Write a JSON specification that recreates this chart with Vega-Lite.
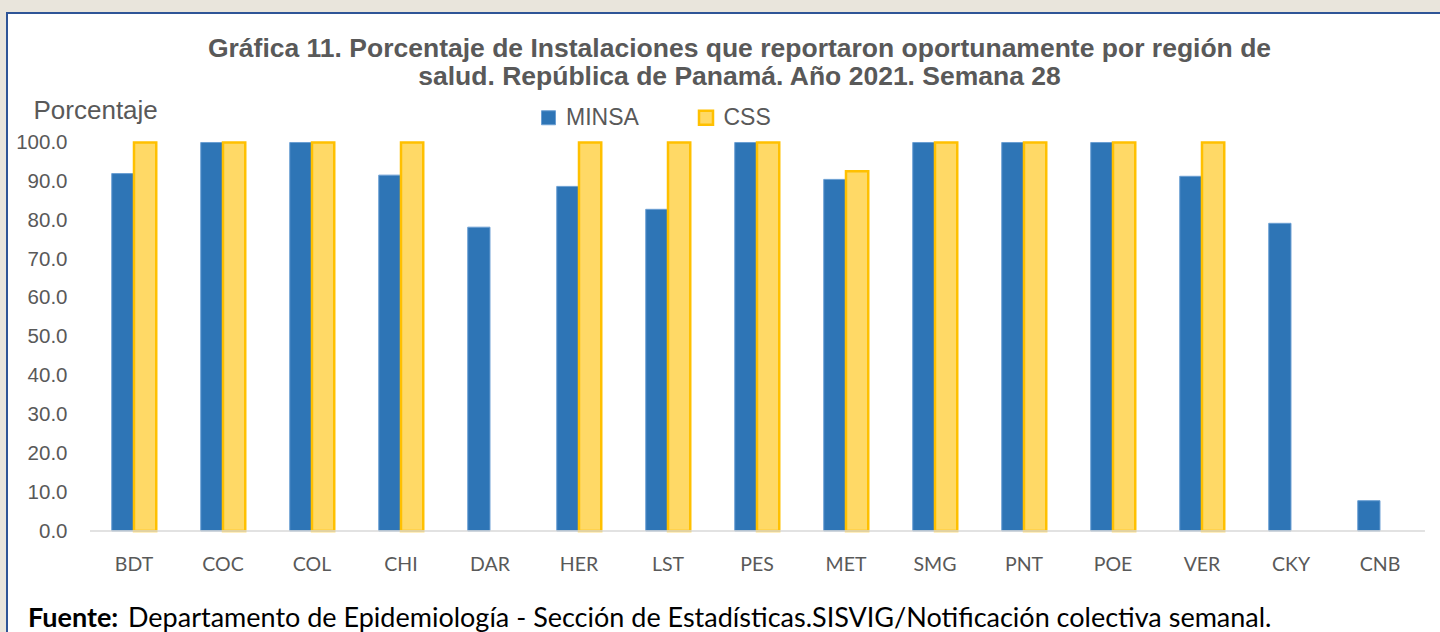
{
  "$schema": "https://vega.github.io/schema/vega-lite/v6.json",
  "width": 1437,
  "height": 625,
  "autosize": {"type": "none"},
  "padding": {"left": 7, "top": 13, "right": -4, "bottom": -6},
  "background": "#e9e5dc",
  "config": {"view": {"fill": "white", "stroke": "#2f5597", "strokeWidth": 2}},
  "title": {
    "text": ["Gráfica 11. Porcentaje de Instalaciones que reportaron oportunamente por región de", "salud. República de Panamá. Año 2021. Semana 28"],
    "font": "Liberation Sans",
    "fontSize": 26.5,
    "fontWeight": "bold",
    "color": "#595959",
    "lineHeight": 28,
    "anchor": "middle",
    "frame": "group",
    "offset": -77,
    "dx": 14
  },
  "layer": [
    {
      "data": {
        "values": [
          {"region": "BDT", "serie": "MINSA", "valor": 92.0},
          {"region": "BDT", "serie": "CSS", "valor": 100.0},
          {"region": "COC", "serie": "MINSA", "valor": 100.0},
          {"region": "COC", "serie": "CSS", "valor": 100.0},
          {"region": "COL", "serie": "MINSA", "valor": 100.0},
          {"region": "COL", "serie": "CSS", "valor": 100.0},
          {"region": "CHI", "serie": "MINSA", "valor": 91.6},
          {"region": "CHI", "serie": "CSS", "valor": 100.0},
          {"region": "DAR", "serie": "MINSA", "valor": 78.2},
          {"region": "HER", "serie": "MINSA", "valor": 88.7},
          {"region": "HER", "serie": "CSS", "valor": 100.0},
          {"region": "LST", "serie": "MINSA", "valor": 82.8},
          {"region": "LST", "serie": "CSS", "valor": 100.0},
          {"region": "PES", "serie": "MINSA", "valor": 100.0},
          {"region": "PES", "serie": "CSS", "valor": 100.0},
          {"region": "MET", "serie": "MINSA", "valor": 90.5},
          {"region": "MET", "serie": "CSS", "valor": 92.6},
          {"region": "SMG", "serie": "MINSA", "valor": 100.0},
          {"region": "SMG", "serie": "CSS", "valor": 100.0},
          {"region": "PNT", "serie": "MINSA", "valor": 100.0},
          {"region": "PNT", "serie": "CSS", "valor": 100.0},
          {"region": "POE", "serie": "MINSA", "valor": 100.0},
          {"region": "POE", "serie": "CSS", "valor": 100.0},
          {"region": "VER", "serie": "MINSA", "valor": 91.3},
          {"region": "VER", "serie": "CSS", "valor": 100.0},
          {"region": "CKY", "serie": "MINSA", "valor": 79.2},
          {"region": "CNB", "serie": "MINSA", "valor": 7.8}
        ]
      },
      "mark": {"type": "bar"},
      "encoding": {
        "x": {
          "field": "region",
          "type": "nominal",
          "scale": {
            "domain": ["BDT", "COC", "COL", "CHI", "DAR", "HER", "LST", "PES", "MET", "SMG", "PNT", "POE", "VER", "CKY", "CNB"],
            "paddingInner": 0.5,
            "paddingOuter": 0.823,
            "align": 0.715
          },
          "axis": {
            "title": null,
            "orient": "bottom",
            "offset": -107,
            "domain": false,
            "ticks": false,
            "tickSize": 0,
            "labelAngle": 0,
            "labelFont": "Lato",
            "labelFontSize": 19.5,
            "labelColor": "#595959",
            "labelBaseline": "alphabetic",
            "labelPadding": 39
          }
        },
        "xOffset": {
          "field": "serie",
          "type": "nominal",
          "scale": {"domain": ["MINSA", "CSS"], "paddingInner": 0, "paddingOuter": 0}
        },
        "y": {
          "field": "valor",
          "type": "quantitative",
          "scale": {"domain": [-27.54, 133.33], "nice": false, "zero": false},
          "axis": {
            "title": "Porcentaje",
            "titleAngle": 0,
            "titleAlign": "left",
            "titleBaseline": "alphabetic",
            "titleX": -57,
            "titleY": 105,
            "titleFont": "Liberation Sans",
            "titleFontSize": 26,
            "titleFontWeight": "normal",
            "titleColor": "#595959",
            "values": [0, 10, 20, 30, 40, 50, 60, 70, 80, 90, 100],
            "format": ".1f",
            "offset": -83,
            "domain": false,
            "ticks": false,
            "tickSize": 0,
            "grid": false,
            "labelFont": "Liberation Sans",
            "labelFontSize": 20.5,
            "labelColor": "#595959",
            "labelPadding": 23
          }
        },
        "fill": {
          "field": "serie",
          "type": "nominal",
          "scale": {"domain": ["MINSA", "CSS"], "range": ["#2e75b6", "#ffd966"]},
          "legend": {
            "title": null,
            "orient": "none",
            "legendX": 530,
            "legendY": 93,
            "direction": "horizontal",
            "symbolType": "square",
            "symbolSize": 196,
            "symbolStrokeWidth": 2,
            "labelFont": "Liberation Sans",
            "labelFontSize": 23,
            "labelColor": "#595959",
            "labelOffset": 6,
            "columnPadding": 54.5,
            "padding": 0
          }
        },
        "stroke": {
          "field": "serie",
          "type": "nominal",
          "scale": {"domain": ["MINSA", "CSS"], "range": ["#6b9fd3", "#ffc000"]},
          "legend": {
            "title": null,
            "orient": "none",
            "legendX": 530,
            "legendY": 93,
            "direction": "horizontal",
            "symbolType": "square",
            "symbolSize": 196,
            "symbolStrokeWidth": 2,
            "labelFont": "Liberation Sans",
            "labelFontSize": 23,
            "labelColor": "#595959",
            "labelOffset": 6,
            "columnPadding": 54.5,
            "padding": 0
          }
        },
        "strokeWidth": {
          "field": "serie",
          "type": "nominal",
          "scale": {"domain": ["MINSA", "CSS"], "range": [1, 2.5]},
          "legend": null
        }
      }
    },
    {
      "data": {"values": [{}]},
      "mark": {"type": "rule", "color": "#d9d9d9", "strokeWidth": 1.5},
      "encoding": {
        "x": {"datum": "BDT", "type": "nominal", "bandPosition": -0.489},
        "x2": {"datum": "CNB", "bandPosition": 1.511},
        "y": {"datum": 0, "type": "quantitative"}
      }
    },
    {
      "data": {"values": [{"t": "Fuente:"}]},
      "mark": {"type": "text", "font": "Lato", "fontSize": 27, "fontWeight": "bold", "color": "#000000", "align": "left", "baseline": "alphabetic"},
      "encoding": {
        "x": {"datum": "BDT", "type": "nominal", "bandPosition": -1.882},
        "y": {"datum": -24.6, "type": "quantitative"},
        "text": {"field": "t", "type": "nominal"}
      }
    },
    {
      "data": {"values": [{"t": "Departamento de Epidemiología - Sección de Estadísticas.SISVIG/Notificación colectiva semanal."}]},
      "mark": {"type": "text", "font": "Lato", "fontSize": 27, "fontWeight": "normal", "color": "#000000", "align": "left", "baseline": "alphabetic"},
      "encoding": {
        "x": {"datum": "BDT", "type": "nominal", "bandPosition": 0.365},
        "y": {"datum": -24.6, "type": "quantitative"},
        "text": {"field": "t", "type": "nominal"}
      }
    }
  ]
}
